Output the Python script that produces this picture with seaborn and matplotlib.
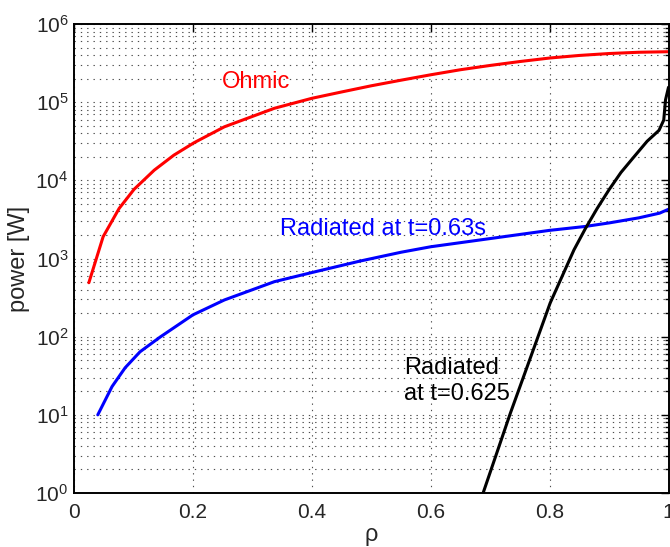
import numpy as np
import pandas as pd
import matplotlib
matplotlib.use("Agg")
import matplotlib.pyplot as plt
import matplotlib.ticker as mticker
import seaborn as sns

# Ohmic heating profile
rho_ohmic = [0.025, 0.049, 0.076, 0.101, 0.135, 0.168, 0.202, 0.253, 0.337,
             0.40, 0.45, 0.50, 0.55, 0.60, 0.65, 0.70, 0.75, 0.80, 0.85,
             0.90, 0.95, 1.0]
p_ohmic = [490, 1900, 4380, 7670, 13500, 21000, 30300, 48400, 83500,
           112000, 135000, 162000, 191000, 224000, 260000, 295000, 331000,
           367000, 396000, 419000, 435000, 442000]

# Radiated power at t=0.63s
rho_rad063 = [0.040, 0.064, 0.086, 0.111, 0.145, 0.20, 0.253, 0.337, 0.40,
              0.48, 0.55, 0.60, 0.70, 0.80, 0.86, 0.90, 0.95, 0.985, 1.0]
p_rad063 = [10, 23, 40, 64, 99, 190, 295, 505, 661,
            923, 1202, 1413, 1799, 2291, 2570, 2851, 3311, 3802, 4266]

# Radiated power at t=0.625
rho_rad0625 = [0.685, 0.734, 0.77, 0.801, 0.841, 0.86, 0.88, 0.90, 0.92,
               0.942, 0.964, 0.984, 0.992, 0.995, 1.0]
p_rad0625 = [0.85, 10.5, 60, 270, 1290, 2400, 4370, 7590, 12600,
             20000, 31600, 43600, 59000, 107000, 155000]

x_ticks = [0, 0.2, 0.4, 0.6, 0.8, 1]
x_tick_labels = ["0", "0.2", "0.4", "0.6", "0.8", "1"]

sns.set_style("white")
plt.rcParams["font.family"] = ["Liberation Sans", "DejaVu Sans"]
plt.rcParams["mathtext.fontset"] = "custom"
plt.rcParams["mathtext.rm"] = "Liberation Sans"
plt.rcParams["mathtext.it"] = "Liberation Sans:italic"
plt.rcParams["mathtext.bf"] = "Liberation Sans:bold"

fig = plt.figure(figsize=(6.70, 5.47), dpi=100)
ax = fig.add_axes([74 / 670, 54 / 547, 594.5 / 670, 469 / 547])

sns.lineplot(x=rho_ohmic, y=p_ohmic, ax=ax, color="#ff0000", lw=2.2,
             estimator=None, sort=False)
sns.lineplot(x=rho_rad063, y=p_rad063, ax=ax, color="#0000ff", lw=2.2,
             estimator=None, sort=False)
sns.lineplot(x=rho_rad0625, y=p_rad0625, ax=ax, color="#000000", lw=2.2,
             estimator=None, sort=False)

ax.set_yscale("log")
ax.set_xlim(0, 1)
ax.set_ylim(1, 1e6)
ax.set_xticks(x_ticks)
ax.set_xticklabels(x_tick_labels)
ax.xaxis.set_minor_locator(mticker.NullLocator())
ax.yaxis.set_major_locator(mticker.LogLocator(base=10, numticks=10))
ax.yaxis.set_minor_locator(mticker.LogLocator(base=10, subs=np.arange(2, 10), numticks=20))
ax.yaxis.set_minor_formatter(mticker.NullFormatter())

dot = (0, (1.2, 4.5))
ax.grid(True, which="major", axis="both", ls=dot, color="0.3", lw=0.8)
ax.grid(True, which="minor", axis="y", ls=dot, color="0.3", lw=0.8)

for s in ax.spines.values():
    s.set_visible(True)
    s.set_color("black")
    s.set_linewidth(1.4)

ax.tick_params(which="both", direction="in", top=True, right=True,
               color="black", width=1.0)
ax.tick_params(which="major", length=6, labelsize=15, pad=7)
ax.tick_params(which="minor", length=3)
ax.tick_params(axis="y", which="major", pad=4)

ax.set_xlabel("ρ", fontsize=17, labelpad=2)
ax.set_ylabel("power [W]", fontsize=17, labelpad=4)

ax.text(0.2486, 10 ** 5.181, "Ohmic", color="#ff0000", fontsize=17,
        ha="left", va="baseline")
ax.text(0.3468, 10 ** 3.30, "Radiated at t=0.63s", color="#0000ff", fontsize=17,
        ha="left", va="baseline")
ax.text(0.5556, 10 ** 1.522, "Radiated", color="black", fontsize=17,
        ha="left", va="baseline")
ax.text(0.5556, 10 ** 1.19, "at t=0.625", color="black", fontsize=17,
        ha="left", va="baseline")

fig.savefig("out.png", dpi=100)
